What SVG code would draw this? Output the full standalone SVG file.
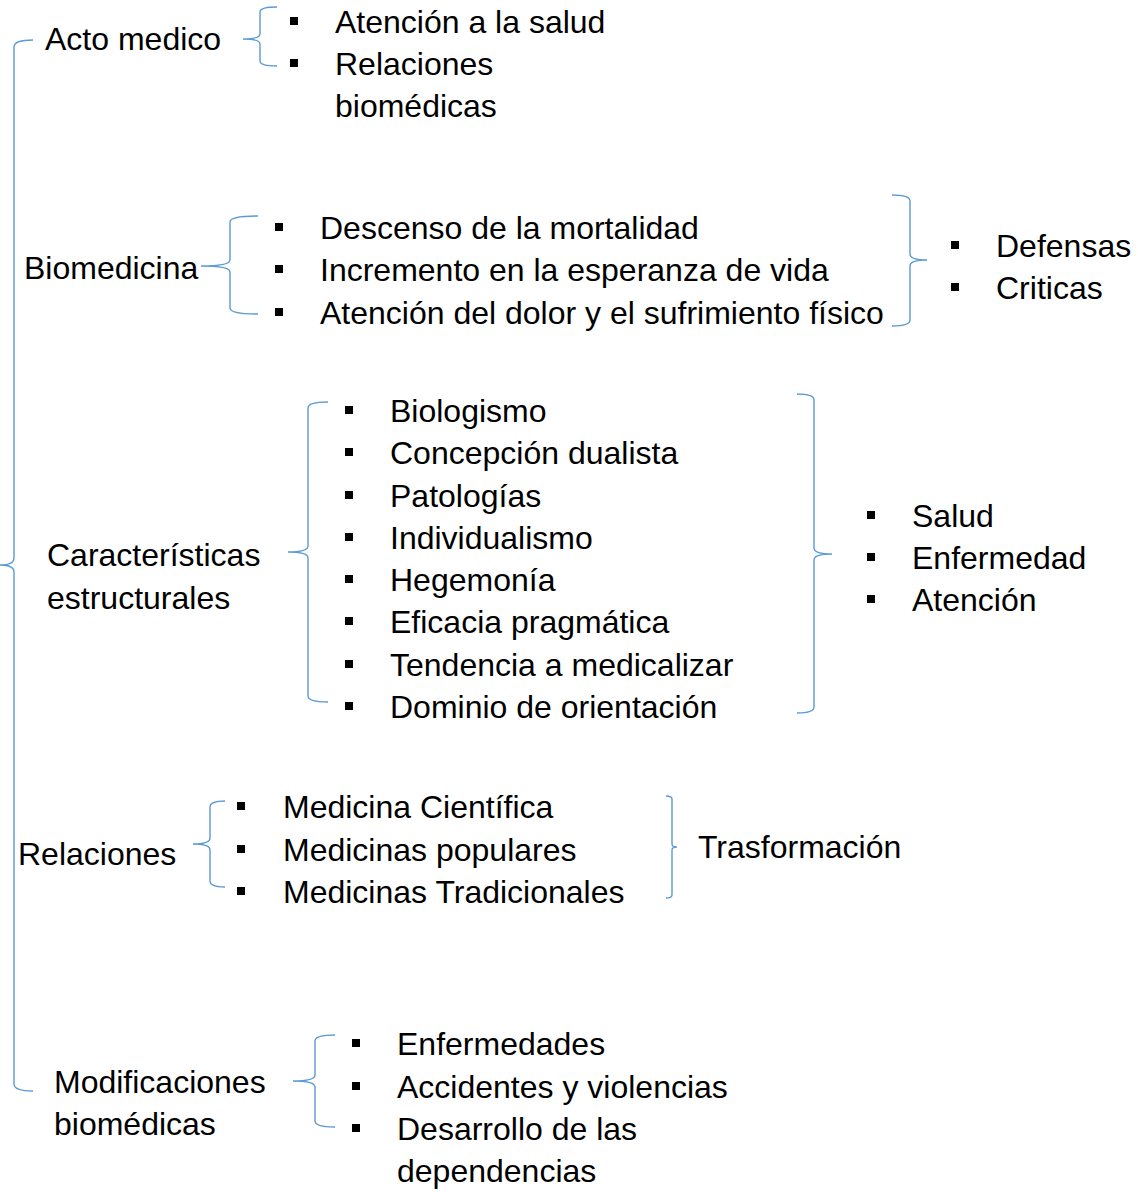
<svg xmlns="http://www.w3.org/2000/svg" width="1138" height="1192" viewBox="0 0 1138 1192">
<style>
text{font-family:"Liberation Sans",Arial,sans-serif;font-size:32px;fill:#000}
.b{fill:none;stroke:#5B9BD5;stroke-width:1.4}
.s{fill:#000}
</style>
<rect width="1138" height="1192" fill="#fff"/>
<g id="connectors">
<path class="b" d="M33,40 Q14,40 14,47 L14,558 Q14,565 0,565 Q14,565 14,572 L14,1084 Q14,1091 33,1091"/>
<path class="b" d="M277,7 Q260,7 260,12 L260,34 Q260,39 243,39 Q260,39 260,44 L260,61 Q260,66 277,66"/>
<path class="b" d="M258,216 Q230,216 230,222 L230,260 Q230,266 201,266 Q230,266 230,272 L230,308 Q230,314 258,314"/>
<path class="b" d="M892,195 Q910,195 910,201 L910,254 Q910,260 927,260 Q910,260 910,266 L910,320 Q910,326 892,326"/>
<path class="b" d="M328,402 Q308,402 308,408 L308,546 Q308,552 288,552 Q308,552 308,558 L308,696 Q308,702 328,702"/>
<path class="b" d="M797,394 Q814,394 814,400 L814,548 Q814,554 832,554 Q814,554 814,560 L814,707 Q814,713 797,713"/>
<path class="b" d="M225,801 Q210,801 210,807 L210,838 Q210,844 193,844 Q210,844 210,850 L210,881 Q210,887 225,887"/>
<path class="b" d="M666,796 Q672,796 672,799 L672,844 Q672,847 677,847 Q672,847 672,850 L672,895 Q672,898 666,898"/>
<path class="b" d="M335,1035 Q315,1035 315,1041 L315,1075 Q315,1081 293,1081 Q315,1081 315,1087 L315,1121 Q315,1127 335,1127"/>
</g>
<g id="acto-medico"><text x="45" y="50">Acto medico</text></g>
<g id="acto-items">
<rect class="s" x="290" y="17" width="8" height="8"/><text x="335" y="33">Atención a la salud</text>
<rect class="s" x="290" y="59" width="8" height="8"/><text x="335" y="75">Relaciones</text>
<text x="335" y="117">biomédicas</text>
</g>
<g id="biomedicina"><text x="24" y="279">Biomedicina</text></g>
<g id="biomedicina-items">
<rect class="s" x="275" y="223" width="8" height="8"/><text x="320" y="239">Descenso de la mortalidad</text>
<rect class="s" x="275" y="265" width="8" height="8"/><text x="320" y="281">Incremento en la esperanza de vida</text>
<rect class="s" x="275" y="308" width="8" height="8"/><text x="320" y="324">Atención del dolor y el sufrimiento físico</text>
</g>
<g id="biomedicina-valoracion">
<rect class="s" x="951" y="241" width="8" height="8"/><text x="996" y="257">Defensas</text>
<rect class="s" x="951" y="283" width="8" height="8"/><text x="996" y="299">Criticas</text>
</g>
<g id="caracteristicas"><text x="47" y="566">Características</text><text x="47" y="609">estructurales</text></g>
<g id="caracteristicas-items">
<rect class="s" x="345" y="406" width="8" height="8"/><text x="390" y="422">Biologismo</text>
<rect class="s" x="345" y="448" width="8" height="8"/><text x="390" y="464">Concepción dualista</text>
<rect class="s" x="345" y="491" width="8" height="8"/><text x="390" y="507">Patologías</text>
<rect class="s" x="345" y="533" width="8" height="8"/><text x="390" y="549">Individualismo</text>
<rect class="s" x="345" y="575" width="8" height="8"/><text x="390" y="591">Hegemonía</text>
<rect class="s" x="345" y="617" width="8" height="8"/><text x="390" y="633">Eficacia pragmática</text>
<rect class="s" x="345" y="660" width="8" height="8"/><text x="390" y="676">Tendencia a medicalizar</text>
<rect class="s" x="345" y="702" width="8" height="8"/><text x="390" y="718">Dominio de orientación</text>
</g>
<g id="caracteristicas-ejes">
<rect class="s" x="867" y="511" width="8" height="8"/><text x="912" y="527">Salud</text>
<rect class="s" x="867" y="553" width="8" height="8"/><text x="912" y="569">Enfermedad</text>
<rect class="s" x="867" y="595" width="8" height="8"/><text x="912" y="611">Atención</text>
</g>
<g id="relaciones"><text x="18" y="865">Relaciones</text></g>
<g id="relaciones-items">
<rect class="s" x="237" y="802" width="8" height="8"/><text x="283" y="818">Medicina Científica</text>
<rect class="s" x="237" y="845" width="8" height="8"/><text x="283" y="861">Medicinas populares</text>
<rect class="s" x="237" y="887" width="8" height="8"/><text x="283" y="903">Medicinas Tradicionales</text>
</g>
<g id="trasformacion"><text x="698" y="858">Trasformación</text></g>
<g id="modificaciones"><text x="54" y="1093">Modificaciones</text><text x="54" y="1135">biomédicas</text></g>
<g id="modificaciones-items">
<rect class="s" x="352" y="1039" width="8" height="8"/><text x="397" y="1055">Enfermedades</text>
<rect class="s" x="352" y="1082" width="8" height="8"/><text x="397" y="1098">Accidentes y violencias</text>
<rect class="s" x="352" y="1124" width="8" height="8"/><text x="397" y="1140">Desarrollo de las</text>
<text x="397" y="1182">dependencias</text>
</g>
</svg>
